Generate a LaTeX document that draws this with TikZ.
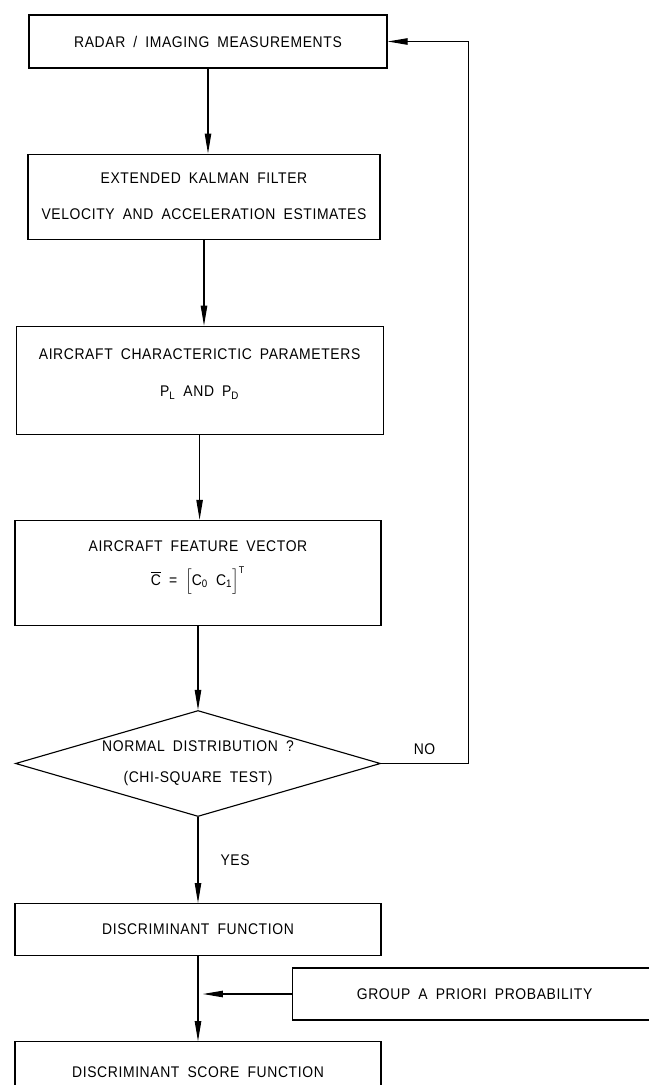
\documentclass[tikz,border=0pt]{standalone}
\usepackage{fontspec}
\usepackage{tikz}
\usetikzlibrary{arrows.meta}
\usetikzlibrary{calc}
\usetikzlibrary{positioning}
\usetikzlibrary{shapes.geometric}

\newfontfamily\cadfont[LetterSpace=4,WordSpace=1.8,FakeStretch=0.9]{Liberation Sans}

\begin{document}
\begin{tikzpicture}[
  % every node/.style={font=\small},
  flowBox/.style={draw, rectangle, line width=0.8pt, inner sep=0pt, align=center,
    font=\cadfont\fontsize{11}{13}\selectfont},
  decisionBox/.style={draw, diamond, shape aspect=3.44, line width=0.8pt, inner sep=0pt,
    minimum width=9.125cm, minimum height=2.65cm, align=center,
    font=\cadfont\fontsize{11}{13}\selectfont},
  flowArrow/.style={draw, line width=0.8pt, -{Triangle[length=5mm,width=1.6mm]}},
  flowLabel/.style={inner sep=0pt, font=\cadfont\fontsize{11}{13}\selectfont},
]

\useasboundingbox (0,0) rectangle (16.225,-27.125);
\clip (0,0) rectangle (16.225,-27.125);

% --- Begin main chain ---
\node[flowBox, minimum width=8.95cm, minimum height=1.325cm] (radarMeas) at (5.2,-1.0375)
  {RADAR / IMAGING MEASUREMENTS};

\node[flowBox, minimum width=8.8cm, minimum height=2.125cm,
  below=2.125cm of radarMeas, xshift=-0.1cm] (kalmanEst)
  {EXTENDED KALMAN FILTER\\[0.44cm] VELOCITY AND ACCELERATION ESTIMATES};

% text sits a bit high in these two boxes
\node[flowBox, minimum width=9.175cm, minimum height=2.7cm, text depth=0.38cm,
  below=2.15cm of kalmanEst, xshift=-0.11cm] (acParams)
  {AIRCRAFT CHARACTERICTIC PARAMETERS\\[0.48cm] P\textsubscript{L} AND P\textsubscript{D}};

\node[flowBox, minimum width=9.15cm, minimum height=2.625cm, text depth=0.5cm,
  below=2.125cm of acParams, xshift=-0.04cm] (featVec)
  {AIRCRAFT FEATURE VECTOR\\[0.34cm]
   $\overline{\mbox{C}}$ = $\Big[\mbox{C\textsubscript{0} C\textsubscript{1}}\Big]^{\mbox{\scriptsize T}}$};

\node[decisionBox, below=2.1cm of featVec] (normTest)
  {NORMAL DISTRIBUTION ?\\[0.31cm] (CHI-SQUARE TEST)};

\node[flowBox, minimum width=9.15cm, minimum height=1.3cm,
  below=2.15cm of normTest] (discFunc) {DISCRIMINANT FUNCTION};

\node[flowBox, minimum width=9.15cm, minimum height=1.5cm,
  below=2.125cm of discFunc] (discScore) {DISCRIMINANT SCORE FUNCTION};

% prior probability input
\node[flowBox, minimum width=9.1cm, minimum height=1.3cm, anchor=west] (priorProb)
  at (7.3,-24.85) {GROUP A PRIORI PROBABILITY};

% --- connectors ---
\draw[flowArrow] (radarMeas.south) -- (radarMeas.south |- kalmanEst.north);
\draw[flowArrow] (kalmanEst.south) -- (kalmanEst.south |- acParams.north);
\draw[flowArrow] (acParams.south) -- (acParams.south |- featVec.north);
\draw[flowArrow] (featVec) -- (normTest);

\coordinate[right=2.175cm of normTest.east] (noCorner);
\draw[flowArrow] (normTest.east) -- node[flowLabel, above=0.2cm] (noLbl) {NO} (noCorner)
  |- (radarMeas.east);

\draw[flowArrow] (normTest.south) -- node[flowLabel, right=0.55cm] (yesLbl) {YES}
  (normTest.south |- discFunc.north);

\draw[flowArrow] (discFunc) -- (discScore);

\coordinate (priorTip) at ($(discFunc.south |- priorProb.west)+(0.12,0)$);
\draw[flowArrow] (priorProb.west) -- (priorTip);

\end{tikzpicture}
\end{document}
